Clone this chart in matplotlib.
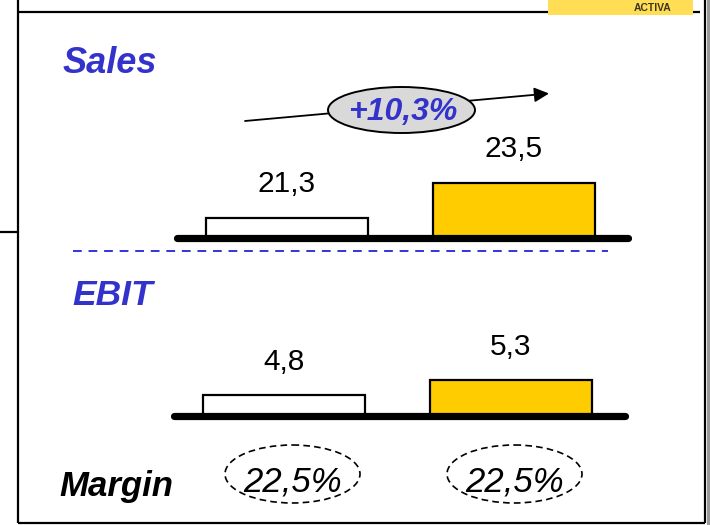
import matplotlib
matplotlib.use("Agg")
import matplotlib.pyplot as plt
from matplotlib.patches import Ellipse, Rectangle

plt.rcParams['font.family'] = ['Liberation Sans', 'DejaVu Sans']

# values
sales = [21.3, 23.5]
ebit = [4.8, 5.3]
margin = [22.5, 22.5]
sales_growth = 10.3
bar_colors = ['white', '#FFCC00']

BLUE = '#3333CC'
W, H = 710, 525


def fmt(v):
    return f'{v:.1f}'.replace('.', ',')


fig = plt.figure(figsize=(W / 100, H / 100), dpi=100)

# background axes in pixel coordinates for the slide decorations
bg = fig.add_axes([0, 0, 1, 1])
bg.set_xlim(0, W)
bg.set_ylim(H, 0)
bg.axis('off')


def bar_panel(values, x0, x1, ybase, c0, step, floor, ppu):
    height = 150
    ax = fig.add_axes([x0 / W, (H - ybase) / H, (x1 - x0) / W, height / H])
    ax.set_facecolor('none')
    ax.axis('off')
    ax.set_xlim((x0 - c0) / step, (x1 - c0) / step)
    ax.set_ylim(floor, floor + height / ppu)
    xs = range(len(values))
    ax.bar(xs, values, width=162 / step, color=bar_colors,
           edgecolor='black', linewidth=1.6, zorder=2)
    inset = 3.5 / step
    lo, hi = ax.get_xlim()
    ax.plot([lo + inset, hi - inset], [floor, floor], color='black', lw=5.2,
            solid_capstyle='round', clip_on=False, zorder=3)
    for x, v in zip(xs, values):
        ax.annotate(fmt(v), (x, v), xytext=(0, 18.7), textcoords='offset points',
                    ha='center', va='baseline', fontsize=21.5)
    return ax


bar_panel(sales, 173, 631, 237.5, 287, 226.5, 20.07, 15.9)
bar_panel(ebit, 170, 628, 415.5, 284, 227, 4.133, 30.0)

# slide frame
k = dict(color='black', lw=1.6, solid_capstyle='butt')
bg.plot([17.5, 17.5], [0, 523], **k)
bg.plot([705, 705], [0, 523], **k)
bg.plot([17.5, 705], [523, 523], **k)
bg.plot([17.5, 700], [12, 12], **k)
bg.plot([0, 17.5], [232, 232], **k)
bg.add_patch(Rectangle((707, 0), 3, H, color='#9a9a9a', lw=0))

# logo strip in the corner
bg.add_patch(Rectangle((548, 0), 145, 15, color='#FFDD55', lw=0, zorder=4))
bg.text(653, 11, 'ACTIVA', ha='center', va='baseline', fontsize=7.5,
        fontweight='bold', color='#3a3520', zorder=5)

# section titles
bg.text(63, 73, 'Sales', fontsize=26, fontweight='bold', fontstyle='italic',
        color=BLUE, va='baseline')
bg.text(72, 305, 'EBIT', fontsize=25.5, fontweight='bold', fontstyle='italic',
        color=BLUE, va='baseline')
bg.text(59, 496, 'Margin', fontsize=25, fontweight='bold', fontstyle='italic',
        color='black', va='baseline')

# growth arrow with label
bg.annotate('', xy=(549, 93.5), xytext=(245, 121),
            arrowprops=dict(arrowstyle='-|>', color='black', lw=1.3,
                            mutation_scale=22, shrinkA=0, shrinkB=0))
bg.add_patch(Ellipse((401.5, 110), 147, 46, facecolor='#D9D9D9',
                     edgecolor='black', lw=1.4, zorder=4))
bg.text(403, 120, f'+{fmt(sales_growth)}%', ha='center', va='baseline',
        fontsize=23, fontweight='bold', fontstyle='italic', color=BLUE, zorder=5)

# separator
bg.plot([73, 608], [251, 251], color='#3333DD', lw=1.4, dashes=(4.5, 3.5))

# margin ellipses
for cx, m in zip([292.5, 514.5], margin):
    bg.add_patch(Ellipse((cx, 474), 135, 58, facecolor='none', edgecolor='black',
                         lw=1.2, linestyle=(0, (4, 2.5))))
    bg.text(cx, 491, f'{fmt(m)}%', ha='center', va='baseline', fontsize=25,
            fontstyle='italic')

fig.savefig('out.png', dpi=100)
